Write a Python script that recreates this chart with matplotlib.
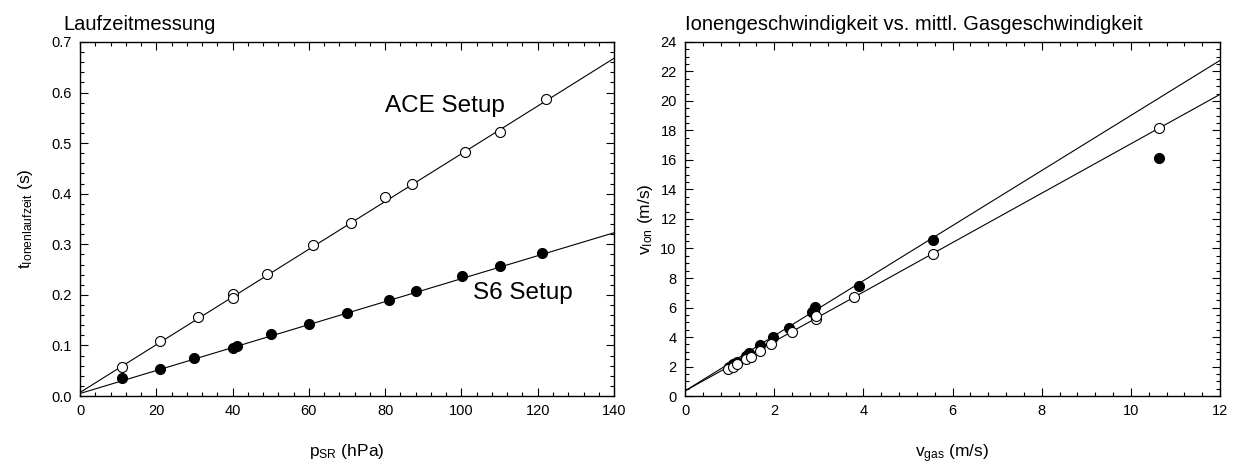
import matplotlib
matplotlib.use('Agg')
import matplotlib.pyplot as plt
from matplotlib.ticker import MultipleLocator
import numpy as np

plt.rcParams['font.family'] = ['Liberation Sans', 'DejaVu Sans']
plt.rcParams['mathtext.default'] = 'regular'

# Laufzeitmessung: ACE setup (open circles)
p_ace = [10.9, 21.0, 30.9, 40.0, 40.0, 49.1, 61.0, 71.0, 80.0, 87.0, 101.0, 110.0, 122.1]
t_ace = [0.058, 0.109, 0.156, 0.201, 0.194, 0.241, 0.299, 0.343, 0.394, 0.420, 0.483, 0.522, 0.587]
# S6 setup (filled circles)
p_s6 = [11.1, 21.0, 30.0, 40.0, 41.1, 50.0, 60.0, 70.1, 81.0, 88.0, 100.1, 110.1, 121.1]
t_s6 = [0.036, 0.054, 0.076, 0.095, 0.099, 0.122, 0.142, 0.165, 0.190, 0.208, 0.237, 0.257, 0.282]
# fit lines (intercept, slope)
fit_ace = (0.007, 0.00472)
fit_s6 = (0.005, 0.00227)

# Ionengeschwindigkeit vs. Gasgeschwindigkeit
v_gas_open = [0.97, 1.07, 1.16, 1.36, 1.47, 1.67, 1.92, 2.40, 2.93, 2.93, 3.78, 5.57, 10.63]
v_ion_open = [1.81, 1.99, 2.15, 2.49, 2.67, 3.07, 3.50, 4.32, 5.20, 5.42, 6.73, 9.60, 18.15]
v_gas_filled = [0.99, 1.08, 1.17, 1.36, 1.44, 1.68, 1.97, 2.34, 2.85, 2.92, 2.90, 3.90, 5.57, 10.63]
v_ion_filled = [1.99, 2.17, 2.33, 2.71, 2.94, 3.43, 4.02, 4.63, 5.72, 6.01, 5.85, 7.46, 10.58, 16.16]
fit_open = (0.35, 1.675)
fit_filled = (0.35, 1.867)

fig = plt.figure(figsize=(12.33, 4.66), dpi=100)
ax1 = fig.add_axes([0.0649, 0.1502, 0.4331, 0.7597])
ax2 = fig.add_axes([0.5556, 0.1502, 0.4339, 0.7597])

mk = dict(marker='o', ms=7.2, mew=0.8, mec='black', ls='none', zorder=3)


def style(ax):
    ax.tick_params(which='both', direction='in', top=True, right=True,
                   labelsize=10.5, pad=6, width=0.8)
    ax.tick_params(which='major', length=5.5)
    ax.tick_params(which='minor', length=3)
    for s in ax.spines.values():
        s.set_linewidth(1.0)


# left plot
xs = np.linspace(0, 140, 2)
ax1.plot(xs, fit_ace[0] + fit_ace[1] * xs, color='black', lw=0.8)
ax1.plot(xs, fit_s6[0] + fit_s6[1] * xs, color='black', lw=0.8)
ax1.plot(p_ace, t_ace, mfc='white', **mk)
ax1.plot(p_s6, t_s6, mfc='black', **mk)
ax1.set_xlim(0, 140)
ax1.set_ylim(0, 0.7)
ax1.xaxis.set_major_locator(MultipleLocator(20))
ax1.xaxis.set_minor_locator(MultipleLocator(4))
ax1.yaxis.set_major_locator(MultipleLocator(0.1))
ax1.yaxis.set_minor_locator(MultipleLocator(0.02))
ax1.yaxis.set_major_formatter(lambda v, p: f'{v:.1f}')
style(ax1)
ax1.set_xlabel(r'$p_{SR}$ (hPa)', fontsize=12.5, labelpad=17)
ax1.set_ylabel(r'$t_{Ionenlaufzeit}$ (s)', fontsize=12.5, labelpad=12)
ax1.text(80.0, 0.561, 'ACE Setup', fontsize=17.5)
ax1.text(103.1, 0.192, 'S6 Setup', fontsize=17.5)
fig.text(63 / 1233, 1 - 30 / 466, 'Laufzeitmessung', fontsize=14.5, va='baseline')

# right plot
xs = np.linspace(0, 12, 2)
ax2.plot(xs, fit_filled[0] + fit_filled[1] * xs, color='black', lw=0.8)
ax2.plot(xs, fit_open[0] + fit_open[1] * xs, color='black', lw=0.8)
ax2.plot(v_gas_filled, v_ion_filled, mfc='black', **mk)
ax2.plot(v_gas_open, v_ion_open, mfc='white', **mk)
ax2.set_xlim(0, 12)
ax2.set_ylim(0, 24)
ax2.xaxis.set_major_locator(MultipleLocator(2))
ax2.xaxis.set_minor_locator(MultipleLocator(0.4))
ax2.yaxis.set_major_locator(MultipleLocator(2))
ax2.yaxis.set_minor_locator(MultipleLocator(0.5))
style(ax2)
ax2.set_xlabel(r'$v_{gas}$ (m/s)', fontsize=12.5, labelpad=17)
ax2.set_ylabel(r'$v_{Ion}$ (m/s)', fontsize=12.5, labelpad=4)
fig.text(685 / 1233, 1 - 30 / 466, 'Ionengeschwindigkeit vs. mittl. Gasgeschwindigkeit',
         fontsize=14.5, va='baseline')

fig.savefig('out.png', dpi=100)
